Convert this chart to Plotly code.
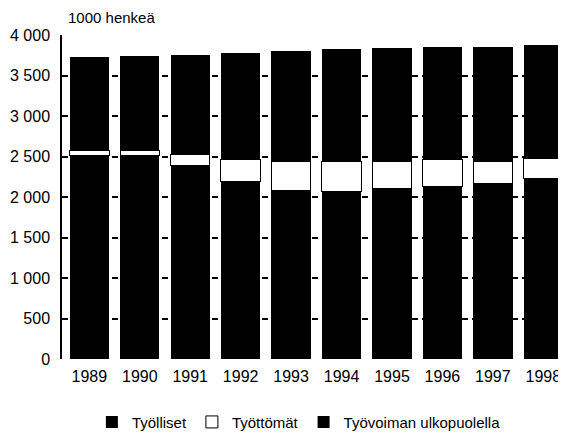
import plotly.graph_objects as go

years = ["1989", "1990", "1991", "1992", "1993", "1994", "1995", "1996", "1997", "1998"]
employed = [2515, 2515, 2390, 2190, 2085, 2070, 2105, 2130, 2165, 2225]
unemployed = [60, 60, 140, 275, 360, 365, 335, 330, 275, 250]
outside = [1160, 1165, 1225, 1315, 1360, 1395, 1400, 1390, 1415, 1405]
ytick_vals = [0, 500, 1000, 1500, 2000, 2500, 3000, 3500, 4000]
ytick_text = ["0", "500", "1 000", "1 500", "2 000", "2 500", "3 000", "3 500", "4 000"]

font = "Liberation Sans, Arial, sans-serif"

fig = go.Figure()
fig.add_bar(x=years, y=employed, name="Työlliset",
            marker=dict(color="black", line=dict(width=0)))
fig.add_bar(x=years, y=unemployed, name="Työttömät",
            marker=dict(color="white", line=dict(color="black", width=1)))
fig.add_bar(x=years, y=outside, name="Työvoiman ulkopuolella",
            marker=dict(color="black", line=dict(width=0)))

fig.update_layout(
    width=558, height=436,
    margin=dict(l=54, r=0, t=27, b=85),
    barmode="stack", bargap=0.22,
    plot_bgcolor="white", paper_bgcolor="white",
    font=dict(family=font, size=15, color="black"),
    showlegend=True,
    legend=dict(orientation="h", x=0.47, xanchor="center", y=-0.195, yanchor="middle",
                traceorder="normal", font=dict(size=15), itemwidth=30),
    annotations=[dict(text="1000 henkeä", xref="paper", yref="paper", x=0.008, y=1.0,
                      xanchor="left", yanchor="bottom", yshift=7, showarrow=False,
                      font=dict(size=15, family=font))],
)
fig.update_xaxes(type="category", range=[-0.542, 9.45], showgrid=False, showline=False,
                 ticks="", tickfont=dict(size=16), ticklabelstandoff=6)
fig.update_yaxes(range=[0, 4002], tickvals=ytick_vals, ticktext=ytick_text,
                 showgrid=True, gridcolor="black", gridwidth=1.5, griddash="6px,4px",
                 showline=True, linecolor="black", linewidth=1.5,
                 zeroline=False, ticks="", tickfont=dict(size=16), ticklabelstandoff=7)

fig.write_html("out.html")
